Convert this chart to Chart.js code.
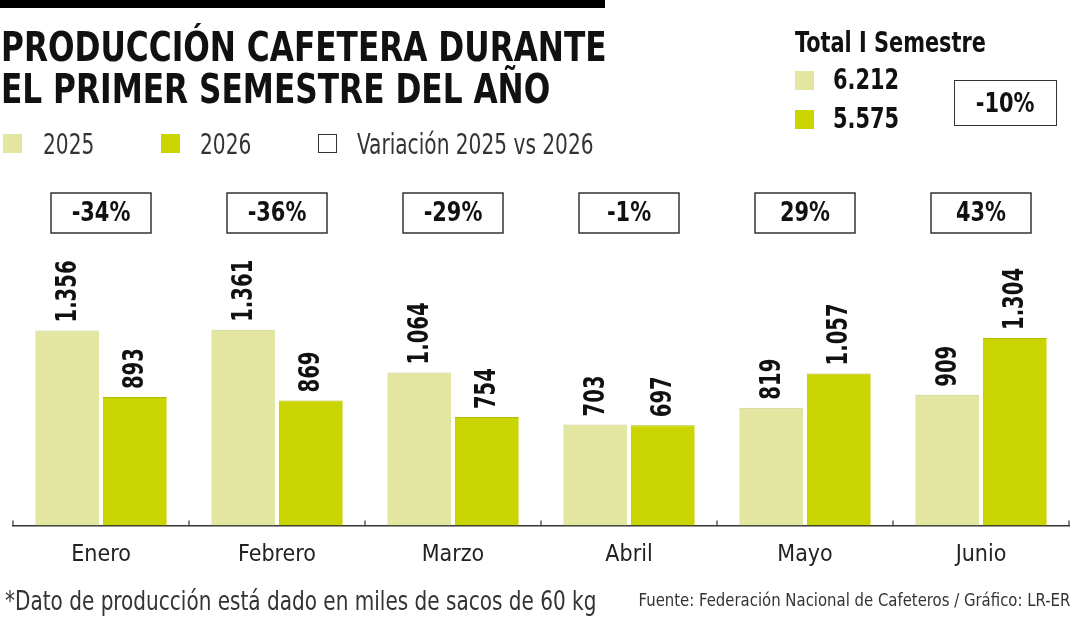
<!DOCTYPE html>
<html>
<head>
<meta charset="utf-8">
<script src="https://cdn.jsdelivr.net/npm/chart.js@4"></script>
<style>
  html, body { margin: 0; padding: 0; background: #fff; }
  #wrap { position: relative; width: 1080px; height: 620px; overflow: hidden; font-family: "Liberation Sans Narrow", "DejaVu Sans Condensed", sans-serif; color: #1a1a1a; }
  #wrap canvas { position: absolute; left: 0; top: 0; }
  .abs { position: absolute; white-space: nowrap; }
  .sx { transform-origin: 0 0; }
  .topbar { left: 0; top: 0; width: 605px; height: 8px; background: #000; }
  .title { left: 1px; top: 26px; font-size: 40px; font-weight: bold; line-height: 42px; color: #111; transform: scaleX(0.868); }
  .sq { width: 19px; height: 19px; }
  .leg { font-size: 28px; color: #333; transform: scaleX(0.8); }
  .tot { font-size: 29px; font-weight: bold; color: #111; transform: scaleX(0.8); }
  .box { border: 1.5px solid #333; text-align: center; font-weight: bold; font-size: 27px; color: #111; }
  .box span { display: inline-block; transform: scaleX(0.86); }
  .foot { font-size: 27px; color: #333; transform: scaleX(0.825); }
  .src { font-size: 18px; color: #333; transform: scaleX(0.92); transform-origin: 100% 0; }
</style>
</head>
<body>
<div id="wrap">
  <canvas id="chart" width="1080" height="620"></canvas>
  <div class="abs topbar"></div>
  <div class="abs sx title">PRODUCCIÓN CAFETERA DURANTE<br>EL PRIMER SEMESTRE DEL AÑO</div>

  <div class="abs sq" style="left:3px; top:134px; background:#e3e6a1"></div>
  <div class="abs sx leg" style="left:43px; top:128px">2025</div>
  <div class="abs sq" style="left:161px; top:134px; background:#c9d400"></div>
  <div class="abs sx leg" style="left:200px; top:128px">2026</div>
  <div class="abs sq" style="left:318px; top:134px; width:17px; height:17px; border:1px solid #333"></div>
  <div class="abs sx leg" style="left:357px; top:128px">Variación 2025 vs 2026</div>

  <div class="abs sx tot" style="left:795px; top:25px">Total I Semestre</div>
  <div class="abs sq" style="left:795px; top:71px; background:#e3e6a1"></div>
  <div class="abs sx tot" id="tot1" style="left:833px; top:62px"></div>
  <div class="abs sq" style="left:795px; top:110px; background:#c9d400"></div>
  <div class="abs sx tot" id="tot2" style="left:833px; top:101px"></div>
  <div class="abs box" style="left:954px; top:80px; width:101px; height:44px; line-height:44px"><span id="totVar"></span></div>

  <div class="abs sx foot" style="left:5px; top:585px">*Dato de producción está dado en miles de sacos de 60 kg</div>
  <div class="abs src" style="right:10px; top:589px">Fuente: Federación Nacional de Cafeteros / Gráfico: LR-ER</div>
</div>
<script>
// datos (miles de sacos de 60 kg)
const meses = ['Enero', 'Febrero', 'Marzo', 'Abril', 'Mayo', 'Junio'];
const prod2025 = [1356, 1361, 1064, 703, 819, 909];
const prod2026 = [893, 869, 754, 697, 1057, 1304];
const variacion = ['-34%', '-36%', '-29%', '-1%', '29%', '43%'];
const totales = ['6.212', '5.575'];
const variacionTotal = '-10%';

const COLOR_2025 = '#e3e6a1';
const COLOR_2026 = '#c9d400';
const FUENTE = '"Liberation Sans Narrow", "DejaVu Sans Condensed", sans-serif';

document.getElementById('tot1').textContent = totales[0];
document.getElementById('tot2').textContent = totales[1];
document.getElementById('totVar').textContent = variacionTotal;

// 1356 -> "1.356"
const formato = (n) => String(n).replace(/\B(?=(\d{3})+(?!\d))/g, '.');

// etiquetas de valor giradas + cajas de variación + marcas del eje
const extras = {
  id: 'extras',
  afterDatasetsDraw(chart) {
    const ctx = chart.ctx;
    const xs = chart.scales.x;
    const area = chart.chartArea;

    ctx.save();
    ctx.fillStyle = '#111';
    ctx.font = 'bold 28px ' + FUENTE;
    ctx.textAlign = 'left';
    ctx.textBaseline = 'middle';
    chart.data.datasets.forEach((ds, i) => {
      chart.getDatasetMeta(i).data.forEach((bar, j) => {
        ctx.save();
        ctx.translate(bar.x, bar.y - 8);
        ctx.rotate(-Math.PI / 2);
        ctx.scale(0.78, 1);
        ctx.fillText(formato(ds.data[j]), 0, 1);
        ctx.restore();
      });
    });

    // cajas de variación
    ctx.textAlign = 'center';
    ctx.font = 'bold 27px ' + FUENTE;
    ctx.strokeStyle = '#333';
    ctx.lineWidth = 1.5;
    variacion.forEach((v, i) => {
      const cx = xs.getPixelForValue(i);
      ctx.strokeRect(cx - 50, 193, 100, 40);
      ctx.save();
      ctx.translate(cx, 214);
      ctx.scale(0.86, 1);
      ctx.fillText(v, 0, 0);
      ctx.restore();
    });

    // marcas cortas sobre la línea base
    ctx.strokeStyle = '#333';
    ctx.lineWidth = 1.2;
    for (let i = 0; i <= meses.length; i++) {
      let x;
      if (i === 0) x = area.left;
      else if (i === meses.length) x = area.right;
      else x = (xs.getPixelForValue(i - 1) + xs.getPixelForValue(i)) / 2;
      ctx.beginPath();
      ctx.moveTo(x, area.bottom);
      ctx.lineTo(x, area.bottom - 5);
      ctx.stroke();
    }
    ctx.restore();
  }
};

new Chart(document.getElementById('chart'), {
  type: 'bar',
  data: {
    labels: meses,
    datasets: [
      {
        label: '2025',
        data: prod2025,
        backgroundColor: COLOR_2025,
        borderColor: '#c9cb8a',
        borderWidth: { top: 1, left: 0, right: 0, bottom: 0 },
        borderSkipped: false
      },
      {
        label: '2026',
        data: prod2026,
        backgroundColor: COLOR_2026,
        borderColor: '#b3bc00',
        borderWidth: { top: 1, left: 0, right: 0, bottom: 0 },
        borderSkipped: false
      }
    ]
  },
  options: {
    responsive: false,
    animation: false,
    events: [],
    layout: { padding: { left: 13, right: 11, top: 238, bottom: 35 } },
    categoryPercentage: 0.767,
    barPercentage: 0.948,
    plugins: { legend: { display: false }, tooltip: { enabled: false } },
    scales: {
      x: {
        grid: { display: false, drawTicks: false },
        border: { display: true, color: '#333', width: 1.5 },
        ticks: { color: '#222', padding: 16, font: { family: FUENTE, size: 23 } }
      },
      y: { display: false, min: 0, max: 2000 }
    }
  },
  plugins: [extras]
});
</script>
</body>
</html>
